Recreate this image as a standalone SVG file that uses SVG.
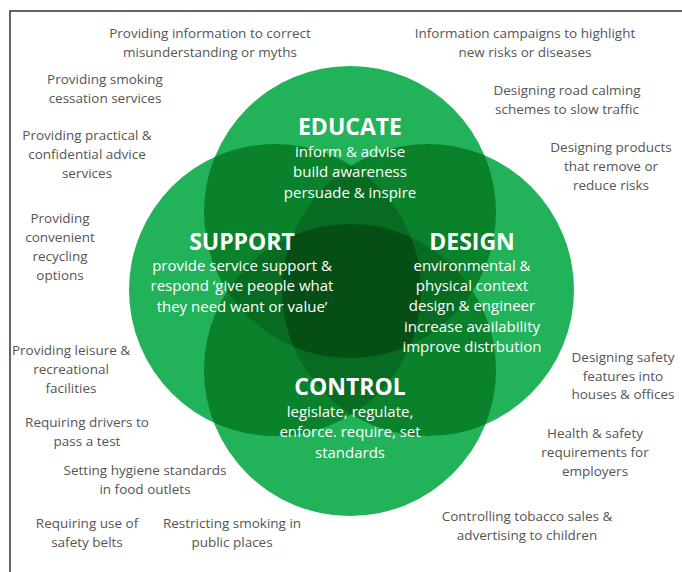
<svg xmlns="http://www.w3.org/2000/svg" width="682" height="572" viewBox="0 0 682 572">
<defs>
<style>
.lbl{font-family:"Open Sans","Liberation Sans",sans-serif;font-size:13.5px;fill:#555;text-anchor:middle}
.ttl{font-family:"Open Sans","Liberation Sans",sans-serif;font-size:23px;font-weight:bold;fill:#fff;text-anchor:middle}
.body{font-family:"Open Sans","Liberation Sans",sans-serif;font-size:15px;fill:#fff;text-anchor:middle}
.g1{fill:#22B25A}.g2{fill:#0A822C}.g3{fill:#076B21}.g4{fill:#054F16}
</style>
<clipPath id="cT"><circle cx="350" cy="212" r="146"/></clipPath>
<clipPath id="cB"><circle cx="350" cy="370" r="146"/></clipPath>
<clipPath id="cL"><circle cx="275" cy="290" r="146"/></clipPath>
<clipPath id="cR"><circle cx="428" cy="290" r="146"/></clipPath>
</defs>
<rect width="682" height="572" fill="#fff"/>
<polyline points="10,572 10,11 682,11" fill="none" stroke="#333" stroke-width="1.5"/>
<g id="circles">
<circle id="circle-educate" class="g1" cx="350" cy="212" r="146"/>
<circle id="circle-support" class="g1" cx="275" cy="290" r="146"/>
<circle id="circle-design" class="g1" cx="428" cy="290" r="146"/>
<circle id="circle-control" class="g1" cx="350" cy="370" r="146"/>
<g id="overlap2" class="g2">
<circle cx="350" cy="212" r="146" clip-path="url(#cB)"/>
<circle cx="350" cy="212" r="146" clip-path="url(#cL)"/>
<circle cx="350" cy="212" r="146" clip-path="url(#cR)"/>
<circle cx="350" cy="370" r="146" clip-path="url(#cL)"/>
<circle cx="350" cy="370" r="146" clip-path="url(#cR)"/>
<circle cx="275" cy="290" r="146" clip-path="url(#cR)"/>
</g>
<g id="overlap3" class="g3">
<g clip-path="url(#cL)"><circle cx="350" cy="212" r="146" clip-path="url(#cR)"/></g>
<g clip-path="url(#cL)"><circle cx="350" cy="370" r="146" clip-path="url(#cR)"/></g>
<g clip-path="url(#cT)"><circle cx="350" cy="370" r="146" clip-path="url(#cL)"/></g>
<g clip-path="url(#cT)"><circle cx="350" cy="370" r="146" clip-path="url(#cR)"/></g>
</g>
<g id="overlap4" class="g4">
<g clip-path="url(#cT)"><g clip-path="url(#cB)"><circle cx="275" cy="290" r="146" clip-path="url(#cR)"/></g></g>
</g>
</g>
<g id="connectors"/>
<g id="node-educate">
<text class="ttl" x="350" y="134.5">EDUCATE</text>
<text class="body" x="350" y="157">inform &amp; advise</text>
<text class="body" x="350" y="177">build awareness</text>
<text class="body" x="350" y="197.5">persuade &amp; inspire</text>
</g>
<g id="node-support">
<text class="ttl" x="242" y="249.5">SUPPORT</text>
<text class="body" x="242" y="270.5">provide service support &amp;</text>
<text class="body" x="242" y="291">respond ‘give people what</text>
<text class="body" x="242" y="311.5">they need want or value’</text>
</g>
<g id="node-design">
<text class="ttl" x="472" y="249.5">DESIGN</text>
<text class="body" x="472" y="270.5">environmental &amp;</text>
<text class="body" x="472" y="290.5">physical context</text>
<text class="body" x="472" y="311">design &amp; engineer</text>
<text class="body" x="472" y="331.5">increase availability</text>
<text class="body" x="472" y="352">improve distrbution</text>
</g>
<g id="node-control">
<text class="ttl" x="350" y="395">CONTROL</text>
<text class="body" x="350" y="416.5">legislate, regulate,</text>
<text class="body" x="350" y="437">enforce. require, set</text>
<text class="body" x="350" y="457.5">standards</text>
</g>
<g id="label-myths"><text class="lbl" x="210" y="38">Providing information to correct</text><text class="lbl" x="210" y="56.5">misunderstanding or myths</text></g>
<g id="label-campaigns"><text class="lbl" x="525" y="38">Information campaigns to highlight</text><text class="lbl" x="525" y="56.5">new risks or diseases</text></g>
<g id="label-smoking"><text class="lbl" x="105" y="83.5">Providing smoking</text><text class="lbl" x="105" y="102.5">cessation services</text></g>
<g id="label-road"><text class="lbl" x="567" y="95">Designing road calming</text><text class="lbl" x="567" y="113.5">schemes to slow traffic</text></g>
<g id="label-advice"><text class="lbl" x="87" y="140">Providing practical &amp;</text><text class="lbl" x="87" y="159">confidential advice</text><text class="lbl" x="87" y="178">services</text></g>
<g id="label-products"><text class="lbl" x="611" y="152">Designing products</text><text class="lbl" x="611" y="171">that remove or</text><text class="lbl" x="611" y="190">reduce risks</text></g>
<g id="label-recycling"><text class="lbl" x="60" y="223">Providing</text><text class="lbl" x="60" y="242">convenient</text><text class="lbl" x="60" y="261">recycling</text><text class="lbl" x="60" y="280">options</text></g>
<g id="label-leisure"><text class="lbl" x="71" y="355">Providing leisure &amp;</text><text class="lbl" x="71" y="374">recreational</text><text class="lbl" x="71" y="393">facilities</text></g>
<g id="label-safety"><text class="lbl" x="623" y="362">Designing safety</text><text class="lbl" x="623" y="380.5">features into</text><text class="lbl" x="623" y="399">houses &amp; offices</text></g>
<g id="label-drivers"><text class="lbl" x="87" y="427">Requiring drivers to</text><text class="lbl" x="87" y="446">pass a test</text></g>
<g id="label-health"><text class="lbl" x="595" y="438">Health &amp; safety</text><text class="lbl" x="595" y="457">requirements for</text><text class="lbl" x="595" y="476">employers</text></g>
<g id="label-hygiene"><text class="lbl" x="145" y="475">Setting hygiene standards</text><text class="lbl" x="145" y="494">in food outlets</text></g>
<g id="label-tobacco"><text class="lbl" x="527" y="521">Controlling tobacco sales &amp;</text><text class="lbl" x="527" y="540">advertising to children</text></g>
<g id="label-belts"><text class="lbl" x="87" y="528">Requiring use of</text><text class="lbl" x="87" y="547">safety belts</text></g>
<g id="label-public"><text class="lbl" x="232" y="528">Restricting smoking in</text><text class="lbl" x="232" y="547">public places</text></g>
</svg>
